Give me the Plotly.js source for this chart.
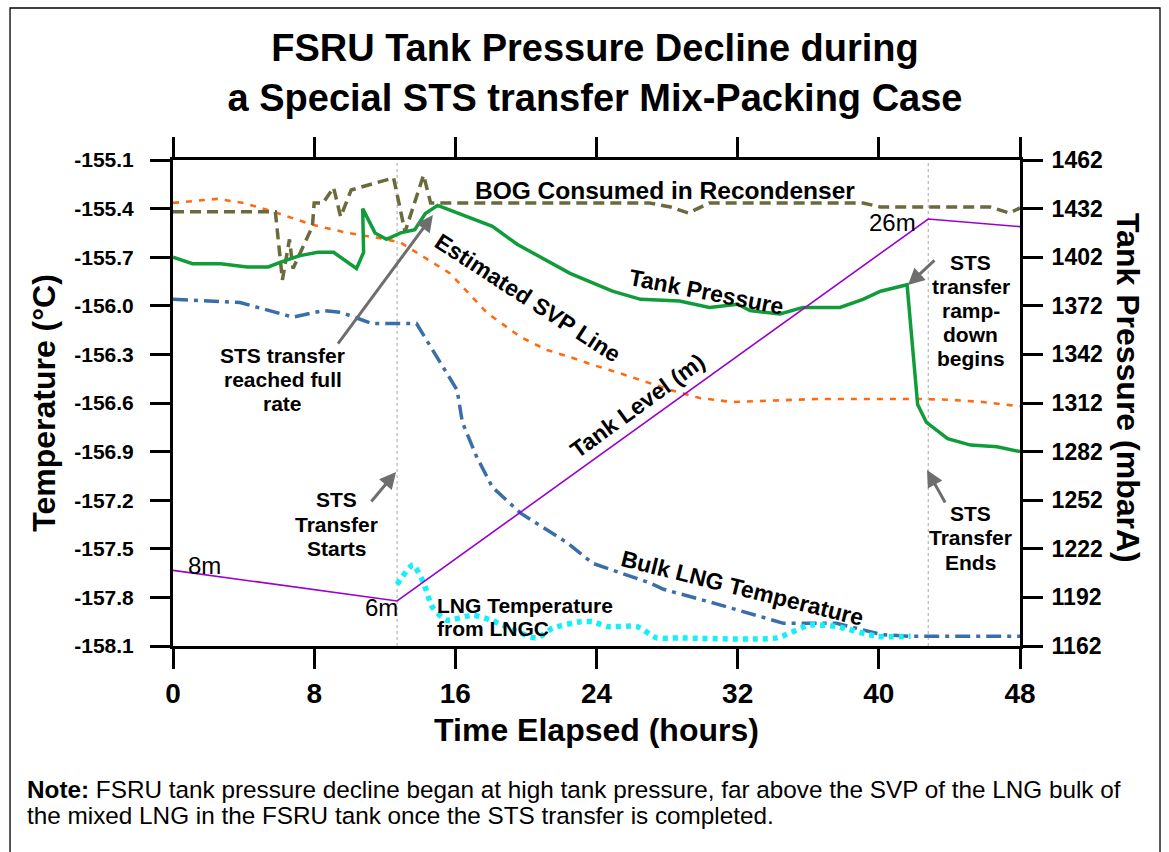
<!DOCTYPE html>
<html><head><meta charset="utf-8">
<script src="https://cdn.plot.ly/plotly-3.0.1.min.js"></script>
<style>html,body{margin:0;padding:0;background:#fff}#chart{width:1169px;height:852px}</style>
</head><body><div id="chart"></div>
<script>
const FONT = 'Liberation Sans, Arial, Helvetica, sans-serif';

// ---- axes / ticks ----
const hourTicks = [0, 8, 16, 24, 32, 40, 48];
const tempTicks = [-155.1, -155.4, -155.7, -156.0, -156.3, -156.6, -156.9, -157.2, -157.5, -157.8, -158.1];
const tempTickText = ['-155.1', '-155.4', '-155.7', '-156.0', '-156.3', '-156.6', '-156.9', '-157.2', '-157.5', '-157.8', '-158.1'];
const pressTicks = [1162, 1192, 1222, 1252, 1282, 1312, 1342, 1372, 1402, 1432, 1462];

// ---- Tank Pressure (mbarA) ----
const tpHours = [0, 1.1, 2.7, 4.2, 5.4, 6.1, 7.2, 8.2, 9.1, 10.4, 10.8, 10.75, 11.45, 12.1, 12.9, 13.7, 14.3, 15.0, 18.1, 19.5, 22.5, 24.9, 26.5, 28.7, 30.4, 32.0, 32.7, 34.4, 35.7, 37.8, 39.1, 40.1, 41.6, 41.9, 42.2, 42.7, 43.9, 45.2, 46.7, 48];
const tpValues = [1402, 1398, 1398, 1396, 1396, 1399, 1403, 1405, 1405, 1395, 1405, 1432, 1417, 1413, 1417, 1419, 1429, 1434, 1421, 1410, 1392, 1381, 1376, 1375, 1371, 1373, 1369, 1367, 1371, 1371, 1376, 1381, 1385, 1345, 1311, 1300, 1290, 1286, 1285, 1282];

// ---- BOG consumed in recondenser (plotted against pressure scale) ----
const bogHours = [0, 5.8, 6.2, 6.6, 6.8, 7.9, 8.0, 8.5, 9.1, 9.5, 10.1, 10.6, 12.5, 13.15, 14.2, 14.6, 16.3, 27.0, 28.2, 29.2, 30.4, 39.1, 40.1, 46.3, 47.4, 48];
const bogValues = [1430, 1430, 1388, 1413, 1395, 1421, 1435.5, 1435.5, 1445, 1427, 1443.5, 1445, 1451, 1417.6, 1452.7, 1435.5, 1435.5, 1435.5, 1433, 1429.3, 1435.5, 1435.5, 1433, 1433, 1429.3, 1432.4];

// ---- Estimated SVP line (mbarA) ----
const svpHours = [0, 2.5, 4.0, 5.7, 7.9, 9.9, 12.1, 12.9, 14.3, 15.7, 17.8, 19.7, 21.2, 22.5, 23.8, 25.3, 28.2, 29.9, 31.7, 36.5, 42.2, 44.0, 45.9, 48];
const svpValues = [1435.5, 1438, 1435.5, 1430, 1422, 1417, 1413, 1411, 1401.5, 1392, 1367.6, 1352.7, 1344.7, 1340.4, 1335.5, 1330.5, 1320, 1315, 1312.6, 1314.5, 1314.5, 1314, 1312.6, 1310];

// ---- Bulk LNG temperature (°C) ----
const bulkHours = [0, 3.8, 6.8, 8.5, 9.5, 11.3, 13.8, 14.7, 16.1, 16.4, 17.2, 18.1, 19.7, 22.3, 23.8, 27.0, 27.8, 30.8, 34.6, 37.6, 40.2, 41.8, 48];
const bulkTemps = [-155.96, -155.98, -156.07, -156.03, -156.04, -156.11, -156.11, -156.27, -156.52, -156.72, -156.93, -157.12, -157.28, -157.46, -157.59, -157.71, -157.75, -157.84, -157.96, -157.96, -158.03, -158.04, -158.04];

// ---- LNG temperature from LNGC (°C) ----
const lngcHours = [12.7, 13.6, 14.2, 14.7, 15.5, 17.0, 18.0, 20.6, 21.5, 23.1, 23.8, 24.6, 26.3, 27.4, 28.7, 34.2, 36.1, 37.6, 39.9, 41.8];
const lngcTemps = [-157.72, -157.60, -157.71, -157.86, -157.94, -157.91, -157.94, -158.05, -157.99, -157.95, -157.95, -157.98, -157.98, -158.05, -158.05, -158.05, -157.97, -157.98, -158.04, -158.04];

// ---- Tank level (m) ----
const levelHours = [0, 12.7, 42.8, 48];
const levelValues = [7.6, 6, 26, 25.6];
const levelLabels = ['8m', '6m', '26m'];

// ---- event markers ----
const eventHours = [12.7, 42.8];

const traces = [
  {x: levelHours, y: levelValues, yaxis: 'y3', mode: 'lines', line: {color: '#9a00d0', width: 1.6}, hoverinfo: 'skip'},
  {x: svpHours, y: svpValues, yaxis: 'y2', mode: 'lines', line: {color: '#ff6a10', width: 2.6, dash: '6px,7px'}},
  {x: bulkHours, y: bulkTemps, yaxis: 'y', mode: 'lines', line: {color: '#3a6ea8', width: 3.5, dash: '15px,6px,4px,6px'}},
  {x: lngcHours, y: lngcTemps, yaxis: 'y', mode: 'lines', line: {color: '#14f0f8', width: 5.5, dash: '5px,5px', shape: 'spline', smoothing: 0.6}},
  {x: bogHours, y: bogValues, yaxis: 'y2', mode: 'lines', line: {color: '#6b6a3c', width: 3.5, dash: '11px,6px'}},
  {x: tpHours, y: tpValues, yaxis: 'y2', mode: 'lines', line: {color: '#119c3a', width: 3.5}}
];

const bold = (size) => ({family: FONT, size: size, color: '#000', weight: 'bold'});
const annotations = [];

function addLabel(text, x, y, size, angle, opts) {
  annotations.push(Object.assign({x: x, y: y, xref: 'x', yref: 'y', text: text, showarrow: false,
    font: bold(size), textangle: angle || 0, xanchor: 'center', yanchor: 'middle'}, opts || {}));
}
function addBlock(lines, x, y, size, gap, opts) {
  const n = lines.length;
  lines.forEach((t, i) => {
    annotations.push(Object.assign({x: x, y: y, xref: 'x', yref: 'y', text: t, showarrow: false,
      font: bold(size), xanchor: 'center', yanchor: 'middle', yshift: -(i - (n - 1) / 2) * gap}, opts || {}));
  });
}
function addArrow(x, y, ax, ay) {
  annotations.push({x: x, y: y, xref: 'x', yref: 'y', text: '', showarrow: true, ax: ax, ay: ay,
    arrowhead: 2, arrowsize: 1.1, arrowwidth: 3, arrowcolor: '#6e6e6e', standoff: 0, startstandoff: 0});
}

addLabel('BOG Consumed in Recondenser', 27.88, -155.291, 24.5, 0);
addLabel('Tank Pressure', 30.26, -155.915, 23, 11);
addLabel('Estimated SVP Line', 20.12, -155.952, 23, 33);
addLabel('Tank Level (m)', 26.3, -156.62, 23, -36);
addLabel('Bulk LNG Temperature', 32.25, -157.742, 23, 14);
addBlock(['LNG Temperature', 'from LNGC'], 14.85, -157.921, 21, 23.5, {xanchor: 'left'});
addBlock(['STS transfer', 'reached full', 'rate'], 6.23, -156.452, 21, 24);
addBlock(['STS', 'Transfer', 'Starts'], 9.29, -157.347, 21, 24.5);
addBlock(['STS', 'transfer', 'ramp-', 'down', 'begins'], 45.22, -156.026, 21, 24);
addBlock(['STS', 'Transfer', 'Ends'], 45.17, -157.433, 21, 24.5);

const levelFont = {family: FONT, size: 24, color: '#000'};
annotations.push({x: 1.81, y: -157.606, xref: 'x', yref: 'y', text: levelLabels[0], showarrow: false, font: levelFont});
annotations.push({x: 11.84, y: -157.865, xref: 'x', yref: 'y', text: levelLabels[1], showarrow: false, font: levelFont});
annotations.push({x: 40.80, y: -155.483, xref: 'x', yref: 'y', text: levelLabels[2], showarrow: false, font: levelFont});

addArrow(14.73, -155.44, -96, 130);
addArrow(12.64, -157.026, -26, 31);
addArrow(41.65, -155.872, 28, -26);
addArrow(42.73, -157.014, 19, 34);

// right axis title (reads top to bottom)
annotations.push({x: 1.1275, y: 0.531, xref: 'paper', yref: 'paper', text: 'Tank Pressure (mbarA)', showarrow: false,
  font: bold(32), textangle: 90, xanchor: 'center', yanchor: 'middle'});

// note (two lines)
const noteLines = ['<b>Note:</b> FSRU tank pressure decline began at high tank pressure, far above the SVP of the LNG bulk of',
  'the mixed LNG in the FSRU tank once the STS transfer is completed.'];
const notePy = [789, 815];
noteLines.forEach((t, i) => {
  annotations.push({x: -0.1747, y: (646 - notePy[i]) / 486, xref: 'paper', yref: 'paper', xanchor: 'left', yanchor: 'middle',
    align: 'left', showarrow: false, text: t, font: {family: FONT, size: 24.3, color: '#000'}});
});

const shapes = eventHours.map(h => ({type: 'line', xref: 'x', yref: 'paper', x0: h, x1: h, y0: 0, y1: 1,
  line: {color: '#a8a8a8', width: 1, dash: 'dot'}, layer: 'below'}));
shapes.push({type: 'rect', xref: 'paper', yref: 'paper', x0: -0.1924, x1: 1.1653, y0: -0.45, y1: 1.3128,
  line: {color: '#000', width: 1.3}});

const axisCommon = {showgrid: false, zeroline: false, showline: true, linecolor: '#000', linewidth: 3,
  ticks: 'outside', ticklen: 20, tickwidth: 3, tickcolor: '#000'};

const layout = {
  width: 1169, height: 852,
  margin: {l: 173, r: 149, t: 160, b: 206},
  paper_bgcolor: '#fff', plot_bgcolor: '#fff',
  showlegend: false,
  title: {text: 'FSRU Tank Pressure Decline during<br>a Special STS transfer Mix-Packing Case',
    font: bold(38), x: 0.509, xanchor: 'center', xref: 'container', y: 0.928, yanchor: 'middle', yref: 'container'},
  xaxis: Object.assign({}, axisCommon, {range: [0, 48], tickvals: hourTicks, mirror: 'ticks',
    tickfont: bold(28), ticklabelstandoff: 0,
    title: {text: 'Time Elapsed (hours)', font: bold(32), standoff: 12}}),
  yaxis: Object.assign({}, axisCommon, {range: [-158.1, -155.1], tickvals: tempTicks, ticktext: tempTickText,
    tickfont: bold(21), ticklabelstandoff: 12,
    title: {text: 'Temperature (°C)', font: bold(32), standoff: 10}}),
  yaxis2: Object.assign({}, axisCommon, {range: [1162, 1462], tickvals: pressTicks, overlaying: 'y', side: 'right',
    tickfont: bold(23), ticklabelstandoff: 4}),
  yaxis3: {range: [3.64, 29.09], overlaying: 'y', visible: false, showgrid: false, zeroline: false},
  shapes: shapes,
  annotations: annotations
};

Plotly.newPlot('chart', traces, layout, {staticPlot: true, displayModeBar: false});
</script>
</body></html>
